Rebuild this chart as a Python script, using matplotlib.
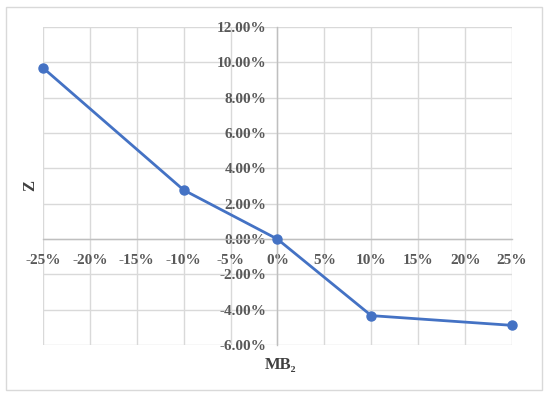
import matplotlib
matplotlib.use("Agg")
import matplotlib.pyplot as plt
from matplotlib.patches import Rectangle
from matplotlib.ticker import FuncFormatter

# data
mb2 = [-25, -10, 0, 10, 25]
z = [9.7, 2.78, 0.0, -4.33, -4.88]
xticks = [-25, -20, -15, -10, -5, 0, 5, 10, 15, 20, 25]
yticks = [-6, -4, -2, 0, 2, 4, 6, 8, 10, 12]

plt.rcParams['font.family'] = ['Liberation Serif', 'DejaVu Serif']
plt.rcParams['font.weight'] = 'bold'

fig = plt.figure(figsize=(5.5, 3.99), dpi=100)
ax = fig.add_axes([0.078, 0.135, 0.853, 0.797])

ax.plot(mb2, z, color='#4472C4', lw=2, marker='o', ms=6.5, zorder=3, clip_on=False)

ax.set_xlim(-25, 25)
ax.set_ylim(-6, 12)
ax.set_xticks(xticks)
ax.set_yticks(yticks)
ax.xaxis.set_major_formatter(FuncFormatter(lambda v, p: f"{v:.0f}%"))
ax.yaxis.set_major_formatter(FuncFormatter(lambda v, p: f"{v:.2f}%"))
ax.grid(True, color='#d9d9d9', lw=1)
ax.set_axisbelow(True)

for s in ['top', 'right']:
    ax.spines[s].set_visible(False)
ax.spines['left'].set_position(('data', 0))
ax.spines['bottom'].set_position(('data', 0))
for s in ['left', 'bottom']:
    ax.spines[s].set_color('#bfbfbf')
    ax.spines[s].set_linewidth(1)

ax.tick_params(axis='both', length=0, labelsize=11, labelcolor='#595959')
ax.tick_params(axis='x', pad=11)
ax.tick_params(axis='y', pad=8)

fig.text(0.055, 0.535, 'Z', rotation=90, ha='center', va='center',
         fontsize=12, color='#404040', fontweight='bold')
fig.text(0.51, 0.085, 'MB₂', ha='center', va='center',
         fontsize=12, color='#404040', fontweight='bold')

fig.patches.append(Rectangle((0.011, 0.022), 0.975, 0.96, transform=fig.transFigure,
                             fill=False, edgecolor='#d9d9d9', lw=1))

fig.savefig('out.png', dpi=100)
